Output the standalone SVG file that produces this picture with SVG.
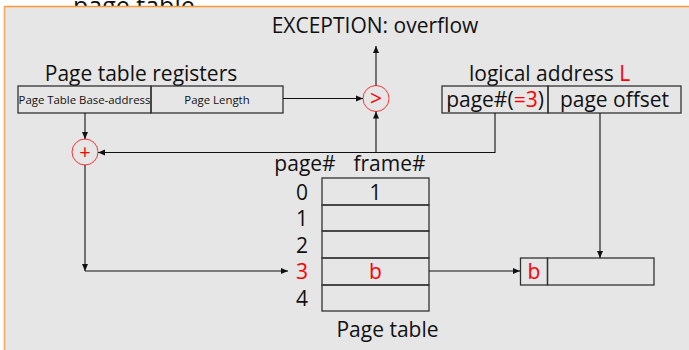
<svg xmlns="http://www.w3.org/2000/svg" width="689" height="350" viewBox="0 0 689 350">
<defs>
<style>
text{font-family:"Open Sans","Noto Sans","DejaVu Sans",sans-serif;fill:#111}
.r{fill:#ff0000}
.box{fill:none;stroke:#333;stroke-width:1.3}
.ln{fill:none;stroke:#111;stroke-width:1.1}
.circ{fill:none;stroke:#ff3333;stroke-width:1}
</style>
<marker id="ah" markerWidth="8" markerHeight="8" refX="7" refY="4" orient="auto" markerUnits="userSpaceOnUse">
<path d="M0,1 L7,4 L0,7 Z" fill="#111"/>
</marker>
</defs>
<rect width="689" height="350" fill="#ffffff"/>
<text x="73" y="15" font-size="25">page table</text>
<rect x="4.5" y="6.5" width="690" height="350" fill="#e6e6e6"/>
<line x1="4.5" y1="6.5" x2="689" y2="6.5" stroke="#ff9933" stroke-width="1.6"/>
<line x1="4.5" y1="6" x2="4.5" y2="350" stroke="#f5a860" stroke-width="1.6"/>

<g id="exception"><text x="375" y="33" font-size="21" text-anchor="middle">EXCEPTION: overflow</text></g>

<g id="registers">
<text x="141" y="81" font-size="21" text-anchor="middle">Page table registers</text>
<rect class="box" x="18" y="86" width="133" height="27"/>
<rect class="box" x="151" y="86" width="132" height="27"/>
<text x="84.5" y="103.5" font-size="11.4" text-anchor="middle">Page Table Base-address</text>
<text x="217" y="103.5" font-size="11.4" text-anchor="middle">Page Length</text>
</g>

<g id="compare">
<circle class="circ" cx="376" cy="98.5" r="13"/>
<text x="376" y="106" font-size="21" text-anchor="middle" class="r">&gt;</text>
</g>

<g id="plus">
<circle class="circ" cx="85" cy="152" r="13"/>
<text x="85" y="159" font-size="20" text-anchor="middle" class="r">+</text>
</g>

<g id="logical">
<text x="469" y="81" font-size="21">logical address <tspan class="r">L</tspan></text>
<rect class="box" x="442" y="86" width="106" height="27"/>
<rect class="box" x="548" y="86" width="133" height="27"/>
<text x="495" y="107" font-size="21" text-anchor="middle">page#(<tspan class="r">=3</tspan>)</text>
<text x="614.5" y="107" font-size="21" text-anchor="middle">page offset</text>
</g>

<g id="pagetable">
<text x="305" y="171" font-size="21" text-anchor="middle">page#</text>
<text x="389.5" y="171" font-size="21" text-anchor="middle">frame#</text>
<rect class="box" x="322" y="178" width="107" height="27"/>
<rect class="box" x="322" y="205" width="107" height="26"/>
<rect class="box" x="322" y="231" width="107" height="27"/>
<rect class="box" x="322" y="258" width="107" height="27"/>
<rect class="box" x="322" y="285" width="107" height="26"/>
<text x="302" y="200" font-size="21" text-anchor="middle">0</text>
<text x="302" y="226" font-size="21" text-anchor="middle">1</text>
<text x="302" y="253" font-size="21" text-anchor="middle">2</text>
<text x="302" y="279" font-size="21" text-anchor="middle" class="r">3</text>
<text x="302" y="306" font-size="21" text-anchor="middle">4</text>
<text x="375.5" y="200" font-size="21" text-anchor="middle">1</text>
<text x="375.5" y="279" font-size="21" text-anchor="middle" class="r">b</text>
<text x="387.5" y="337" font-size="21" text-anchor="middle">Page table</text>
</g>

<g id="physical">
<rect class="box" x="520.5" y="258" width="27" height="27"/>
<rect class="box" x="547.5" y="258" width="106.5" height="27"/>
<text x="534" y="279" font-size="21" text-anchor="middle" class="r">b</text>
</g>

<g id="connectors">
<line class="ln" x1="376" y1="85.5" x2="376" y2="46" marker-end="url(#ah)"/>
<line class="ln" x1="283" y1="98.5" x2="363" y2="98.5" marker-end="url(#ah)"/>
<line class="ln" x1="85" y1="113" x2="85" y2="139" marker-end="url(#ah)"/>
<polyline class="ln" points="495,113 495,152.5 376,152.5 376,111.5" marker-end="url(#ah)"/>
<line class="ln" x1="376" y1="152.5" x2="98" y2="152.5" marker-end="url(#ah)"/>
<line class="ln" x1="85" y1="165" x2="85" y2="271" marker-end="url(#ah)"/>
<line class="ln" x1="85" y1="271" x2="288" y2="271" marker-end="url(#ah)"/>
<line class="ln" x1="429" y1="271" x2="520" y2="271" marker-end="url(#ah)"/>
<line class="ln" x1="600" y1="113" x2="600" y2="258" marker-end="url(#ah)"/>
</g>
</svg>
